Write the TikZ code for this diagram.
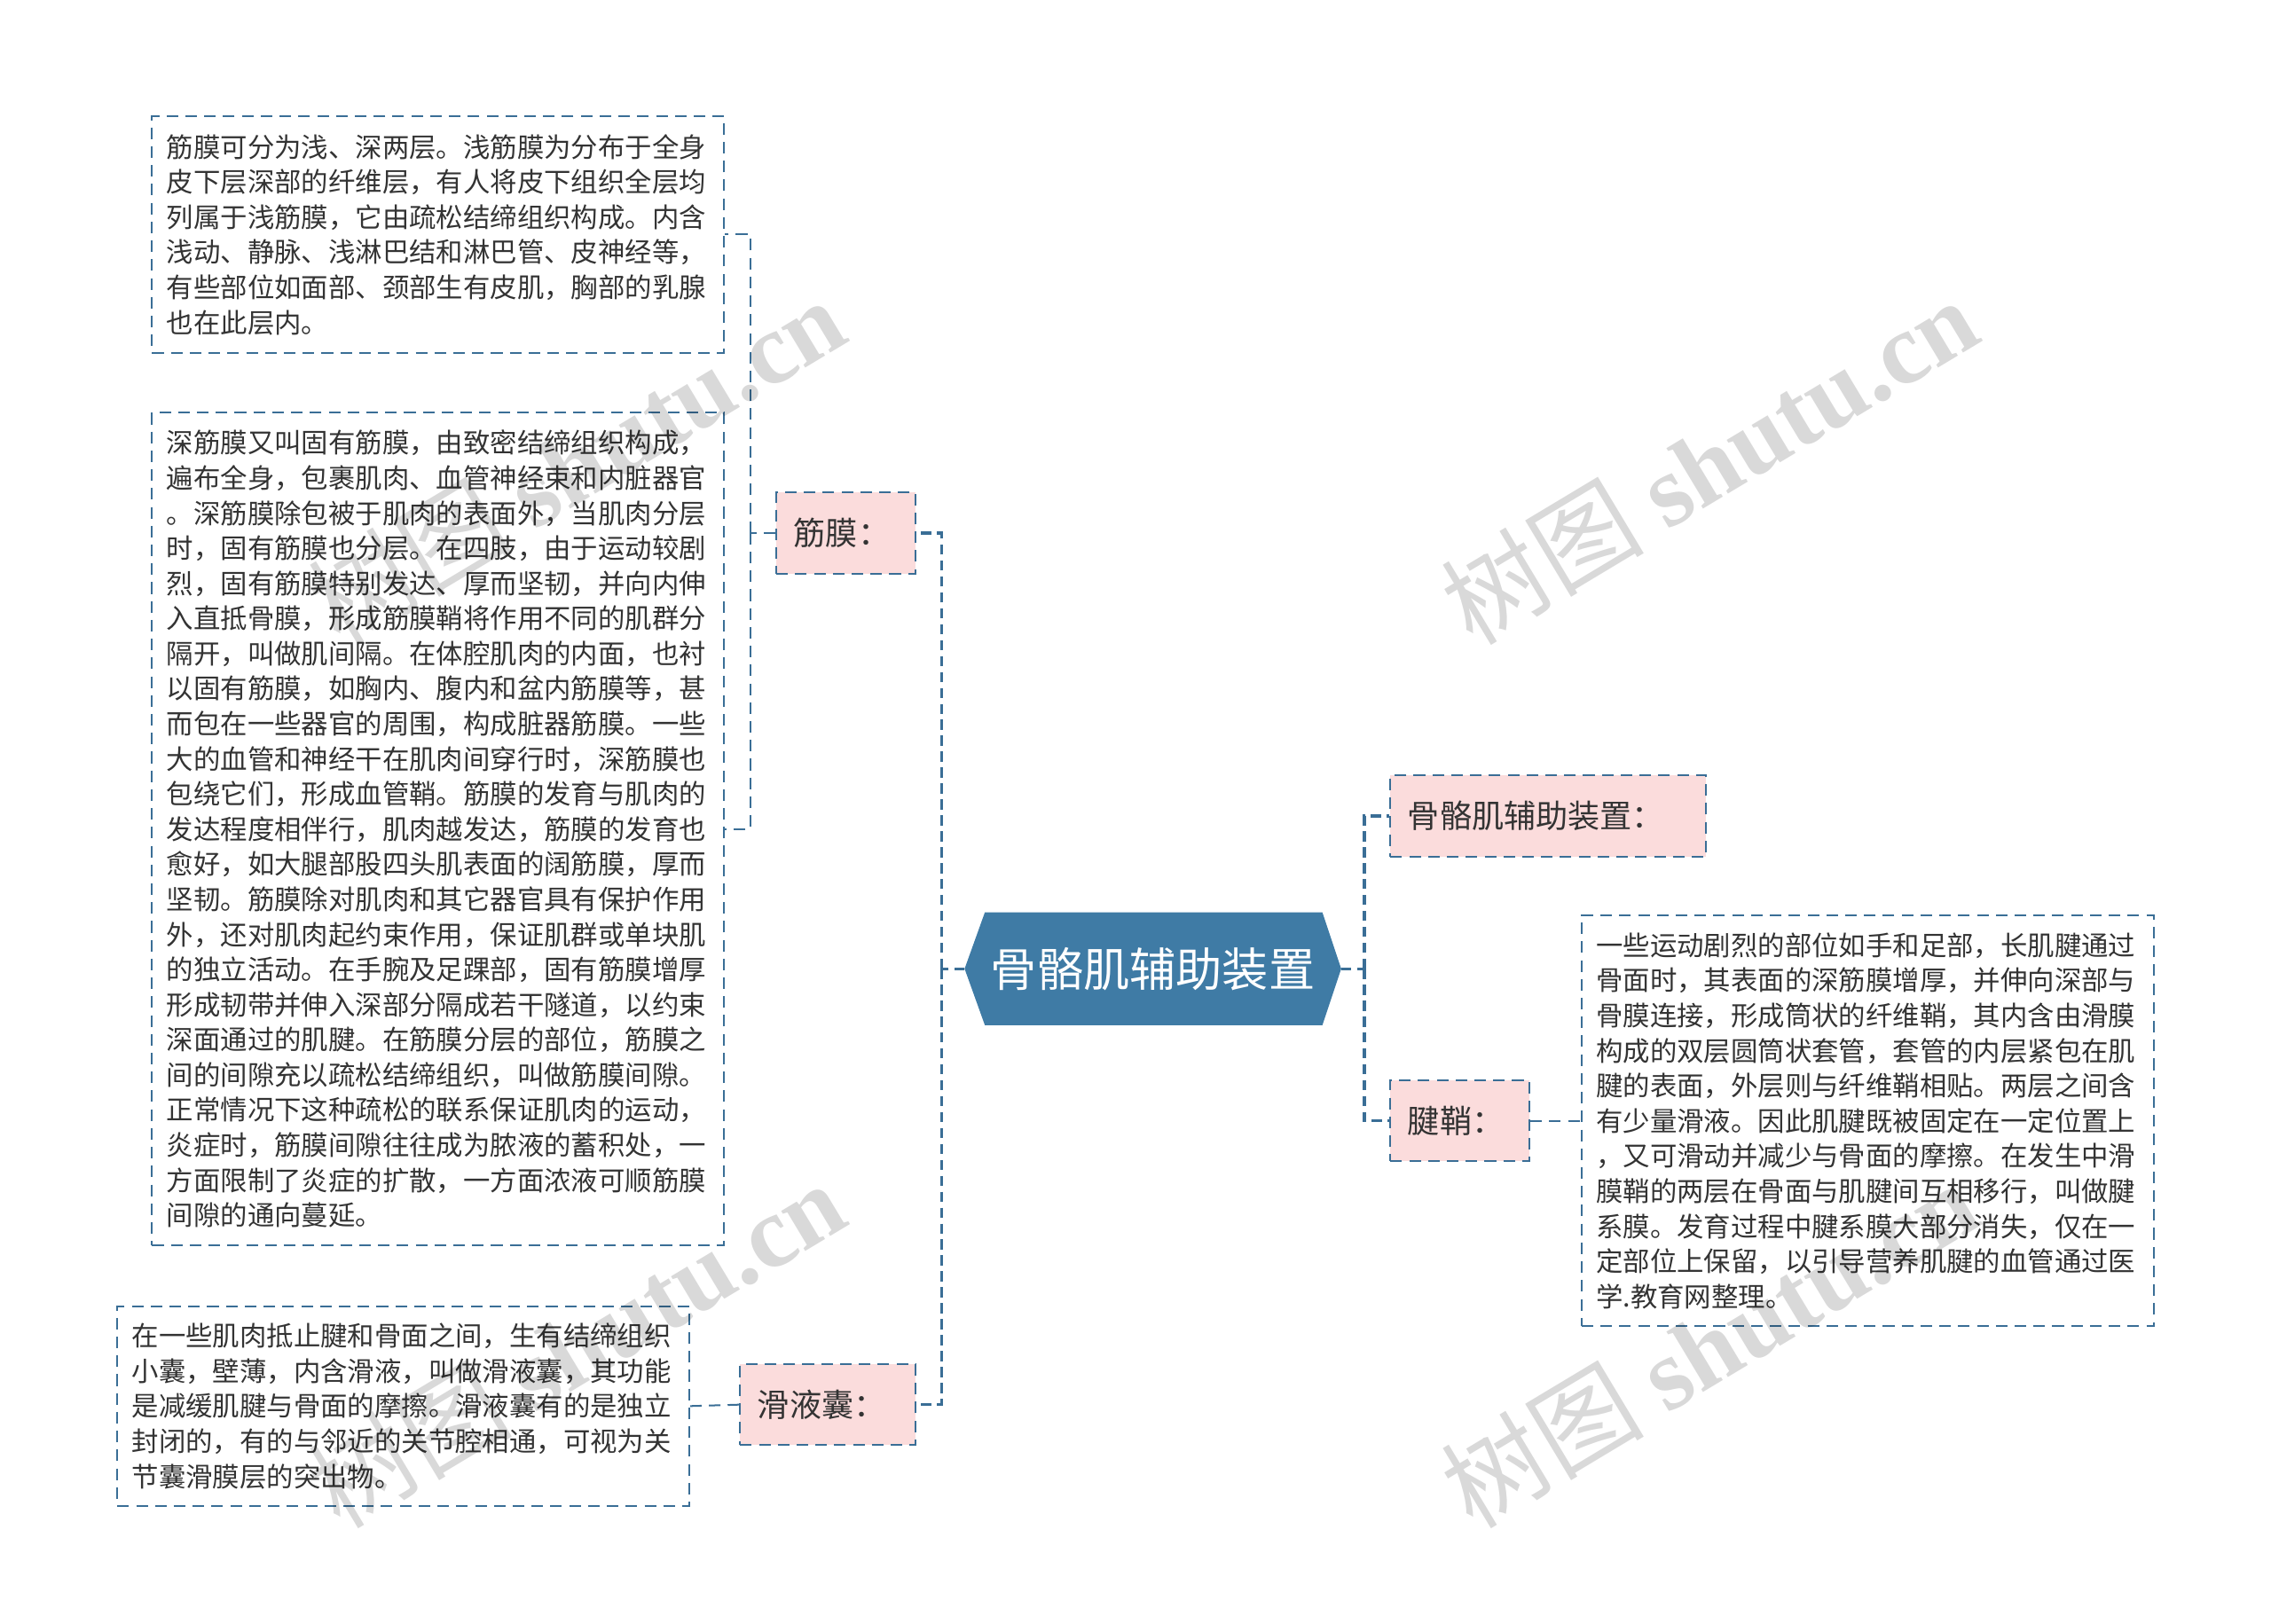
\documentclass[tikz,border=0pt]{standalone}
\usepackage{fontspec}
\setmainfont{Noto Sans CJK SC}
\newfontfamily\wmfont{Liberation Serif}
\usepackage{xcolor}
\usepackage{tikz}

\definecolor{lineblue}{HTML}{3A6E96}
\definecolor{mainblue}{HTML}{3F7BA5}
\definecolor{labelpink}{HTML}{FBDCDC}
\definecolor{txtgray}{HTML}{333333}

\tikzset{
  textbox/.style={draw=lineblue,line width=0.7pt,dash pattern=on 0.16cm off 0.1cm,text=txtgray,
    text width=7.5cm,inner xsep=0.2cm,inner ysep=0pt,align=left,
    font=\fontsize{10.6pt}{13.8pt}\selectfont},
  labelbox/.style={draw=lineblue,fill=labelpink,line width=0.7pt,dash pattern=on 0.16cm off 0.1cm,
    text=txtgray,minimum height=1.12cm,inner xsep=0.24cm,inner ysep=0pt,align=left,
    font=\fontsize{12.6pt}{14pt}\selectfont},
  thinlink/.style={draw=lineblue,line width=0.7pt,dash pattern=on 0.16cm off 0.1cm},
  thicklink/.style={draw=lineblue,line width=1.2pt,dash pattern=on 0.14cm off 0.08cm},
  watermark/.style={text=black,opacity=0.15,rotate=31,font=\fontsize{40pt}{40pt}\selectfont}
}

\begin{document}
\begin{tikzpicture}[x=0.02cm,y=-0.02cm]
\useasboundingbox (0,0) rectangle (1568,1121);
%
\coordinate (mainL) at (666,669);
\coordinate (mainR) at (926,669);
\fill[mainblue] (mainL) -- (680,630) -- (913,630) -- (mainR) -- (913,708) -- (680,708) -- cycle;
\node (main) at (796,669) [text=white,font=\fontsize{18.2pt}{20pt}\selectfont] {骨骼肌辅助装置};
%
\node (jm) at (584,368) [labelbox,text width=1.44cm] {筋膜：};
\node (hy) at (571.5,970) [labelbox,text width=1.94cm] {滑液囊：};
\node (gz) at (1069,563.5) [labelbox,text width=3.88cm] {骨骼肌辅助装置：};
\node (jq) at (1008,774) [labelbox,text width=1.44cm] {腱鞘：};
%
\node (tA) at (302.5,162) [textbox,minimum height=3.28cm] {筋膜可分为浅、深两层。浅筋膜为分布于全身\\皮下层深部的纤维层，有人将皮下组织全层均\\列属于浅筋膜，它由疏松结缔组织构成。内含\\浅动、静脉、浅淋巴结和淋巴管、皮神经等，\\有些部位如面部、颈部生有皮肌，胸部的乳腺\\也在此层内。};
\node (tB) at (302.5,572.5) [textbox,minimum height=11.5cm] {深筋膜又叫固有筋膜，由致密结缔组织构成，\\遍布全身，包裹肌肉、血管神经束和内脏器官\\。深筋膜除包被于肌肉的表面外，当肌肉分层\\时，固有筋膜也分层。在四肢，由于运动较剧\\烈，固有筋膜特别发达、厚而坚韧，并向内伸\\入直抵骨膜，形成筋膜鞘将作用不同的肌群分\\隔开，叫做肌间隔。在体腔肌肉的内面，也衬\\以固有筋膜，如胸内、腹内和盆内筋膜等，甚\\而包在一些器官的周围，构成脏器筋膜。一些\\大的血管和神经干在肌肉间穿行时，深筋膜也\\包绕它们，形成血管鞘。筋膜的发育与肌肉的\\发达程度相伴行，肌肉越发达，筋膜的发育也\\愈好，如大腿部股四头肌表面的阔筋膜，厚而\\坚韧。筋膜除对肌肉和其它器官具有保护作用\\外，还对肌肉起约束作用，保证肌群或单块肌\\的独立活动。在手腕及足踝部，固有筋膜增厚\\形成韧带并伸入深部分隔成若干隧道，以约束\\深面通过的肌腱。在筋膜分层的部位，筋膜之\\间的间隙充以疏松结缔组织，叫做筋膜间隙。\\正常情况下这种疏松的联系保证肌肉的运动，\\炎症时，筋膜间隙往往成为脓液的蓄积处，一\\方面限制了炎症的扩散，一方面浓液可顺筋膜\\间隙的通向蔓延。};
\node (tC) at (278.5,971) [textbox,minimum height=2.76cm] {在一些肌肉抵止腱和骨面之间，生有结缔组织\\小囊，壁薄，内含滑液，叫做滑液囊，其功能\\是减缓肌腱与骨面的摩擦。滑液囊有的是独立\\封闭的，有的与邻近的关节腔相通，可视为关\\节囊滑膜层的突出物。};
\node (tD) at (1289.5,774) [textbox,minimum height=5.68cm] {一些运动剧烈的部位如手和足部，长肌腱通过\\骨面时，其表面的深筋膜增厚，并伸向深部与\\骨膜连接，形成筒状的纤维鞘，其内含由滑膜\\构成的双层圆筒状套管，套管的内层紧包在肌\\腱的表面，外层则与纤维鞘相贴。两层之间含\\有少量滑液。因此肌腱既被固定在一定位置上\\，又可滑动并减少与骨面的摩擦。在发生中滑\\膜鞘的两层在骨面与肌腱间互相移行，叫做腱\\系膜。发育过程中腱系膜大部分消失，仅在一\\定部位上保留，以引导营养肌腱的血管通过医\\学.教育网整理。};
%
\coordinate (lbus) at (650,669);
\coordinate (rbus) at (942,669);
\coordinate (jbus) at (518,368);
%
\draw[thicklink] (mainL) -- (lbus);
\draw[thicklink] (lbus) |- (jm.east);
\draw[thicklink] (lbus) |- (hy.east);
\draw[thicklink] (mainR) -- (rbus);
\draw[thicklink] (rbus) |- (gz.west);
\draw[thicklink] (rbus) |- (jq.west);
%
\draw[thinlink] (jm.west) -- (jbus);
\draw[thinlink] (jbus) |- (tA.east);
\draw[thinlink] (jbus) |- (tB.east);
\draw[thinlink] (hy.west) -- (tC.east);
\draw[thinlink] (jq.east) -- (tD.west);
%%
\node (wm1) at (398,318) [watermark] {树图 {\wmfont\bfseries shutu.cn}};
\node (wm2) at (1180,318) [watermark] {树图 {\wmfont\bfseries shutu.cn}};
\node (wm3) at (398,928) [watermark] {树图 {\wmfont\bfseries shutu.cn}};
\node (wm4) at (1180,928) [watermark] {树图 {\wmfont\bfseries shutu.cn}};
\end{tikzpicture}
\end{document}
